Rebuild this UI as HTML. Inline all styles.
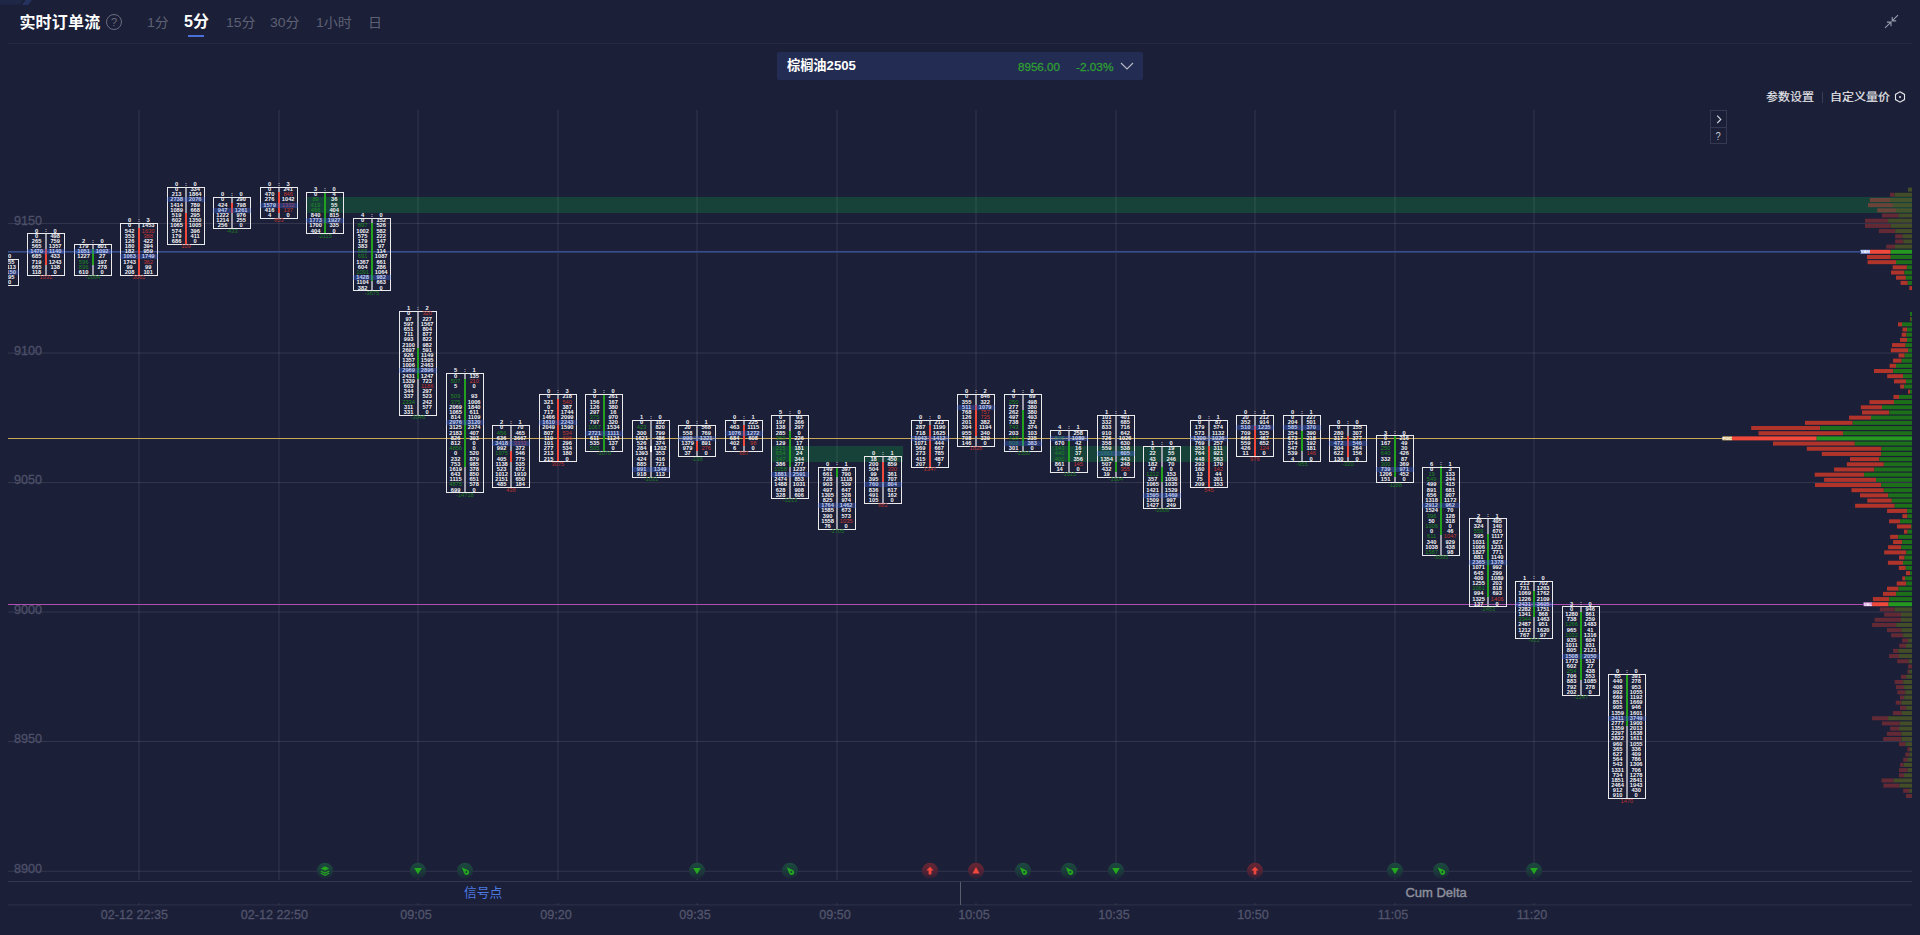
<!DOCTYPE html>
<html lang="zh-CN"><head><meta charset="utf-8"><title>实时订单流</title>
<style>
*{box-sizing:border-box;margin:0;padding:0}
html,body{width:1920px;height:935px;overflow:hidden;background:#1b1f38}
body{position:relative;font-family:"Liberation Sans","Noto Sans CJK SC",sans-serif;color:#fff}
#chart{position:absolute;left:0;top:0}
#chart text{font-family:"Liberation Sans","Noto Sans CJK SC",sans-serif}
.ct text{font-size:5.3px;font-weight:700;fill:#f4f4f7;text-anchor:middle}
.ct text.g{fill:#1f8a22;font-weight:400}
.ct text.r{fill:#c63a34;font-weight:400}
.ct text.dg{fill:#1d7a22;font-weight:400}
.ct text.dr{fill:#b8342f;font-weight:400}
.kl{font-size:4.3px;font-weight:700;text-anchor:middle}
.ax text{font-size:12.6px;fill:#4d5068;stroke:#4d5068;stroke-width:0.3px}
.ax text.xl{text-anchor:middle;fill:#52556c;stroke:#52556c}
.abs{position:absolute;white-space:nowrap}
.hd{left:8px;top:43px;width:1904px;height:1px;background:#25283e}
.title{left:19.4px;top:12px;letter-spacing:0.2px;font-size:16px;font-weight:700;line-height:22px;color:#fff}
.q{left:106px;top:14px;width:16px;height:16px;border:1px solid #6b6d7d;border-radius:50%;color:#6b6d7d;font-size:11px;line-height:14px;text-align:center}
.tab{top:12px;font-size:14px;line-height:20px;color:#5e6174;transform:scaleY(0.9);transform-origin:50% 55%}
.tab.on{color:#fff;font-weight:700;font-size:16px;top:11px;line-height:22px;transform:none}
.ul{left:188px;top:35px;width:16px;height:2px;background:#4a6fd8}
.sel{left:777px;top:52px;width:366px;height:28px;background:#232c52;border-radius:2px}
.sel .nm{left:10px;top:3px;font-size:13.2px;font-weight:700;line-height:22px;color:#fff}
.sel .px{left:241px;top:5px;font-size:11.6px;line-height:20px;color:#2f9e33;-webkit-text-stroke:0.3px #2f9e33}
.sel .pc{left:299px;top:5px;font-size:11.8px;line-height:20px;color:#2f9e33;-webkit-text-stroke:0.3px #2f9e33}
.r1{top:88px;font-size:12px;line-height:18px;color:#e6e6ea;transform:scaleY(0.92);transform-origin:50% 85%;-webkit-text-stroke:0.2px #e6e6ea}
.btn{left:1710px;width:17px;border:1px solid #35384f;color:#c9cad3;font-size:11px;text-align:center}
.sig{left:464px;top:884px;font-size:12.8px;line-height:18px;color:#4d79e0}
.cum{left:1405.4px;top:884px;font-size:13px;line-height:18px;color:#8e909c;-webkit-text-stroke:0.4px #8e909c}
</style></head>
<body>
<svg class="abs" style="left:0;top:0" width="40" height="6"><path d="M0,0H23.5L20,4.8H0Z" fill="#1f2746"/><path d="M25.5,0H32L28,5H22Z" fill="#263361"/></svg>
<div class="abs title">实时订单流</div>
<div class="abs q">?</div>
<div class="abs tab" style="left:147px">1分</div>
<div class="abs tab on" style="left:184px">5分</div>
<div class="abs tab" style="left:226px">15分</div>
<div class="abs tab" style="left:270px">30分</div>
<div class="abs tab" style="left:316px">1小时</div>
<div class="abs tab" style="left:368px">日</div>
<div class="abs ul"></div>
<svg class="abs" style="left:1884px;top:14px" width="16" height="16" viewBox="0 0 16 16" fill="none" stroke="#9a9cae" stroke-width="1.1"><path d="M14,1.2 L8.2,6.9 M8.2,3 V6.9 H12.2 M1,13.8 L7,8.1 M2.9,8.1 H7 V12.3"/></svg>
<div class="abs hd"></div>
<div class="abs sel"><div class="abs nm">棕榈油2505</div><div class="abs px">8956.00</div><div class="abs pc">-2.03%</div>
<svg class="abs" style="left:343px;top:9px" width="14" height="10" viewBox="0 0 14 10" fill="none" stroke="#b9bbc6" stroke-width="1.1"><path d="M1,2 L7,8 L13,2"/></svg></div>
<div class="abs r1" style="left:1766px">参数设置</div>
<div class="abs" style="left:1822px;top:92px;width:1px;height:11px;background:#3a3d55"></div>
<div class="abs r1" style="left:1830px">自定义量价</div>
<svg class="abs" style="left:1894px;top:91px" width="12" height="12" viewBox="0 0 12 12" fill="none" stroke="#e6e6ea" stroke-width="1.1"><path d="M6,0.8 L10.5,3.4 V8.6 L6,11.2 L1.5,8.6 V3.4 Z"/><circle cx="6" cy="6" r="1" fill="#e6e6ea" stroke="none"/></svg>
<div class="abs btn" style="top:110px;height:18px"><svg class="abs" style="left:5px;top:4px" width="6" height="9" viewBox="0 0 6 9" fill="none" stroke="#dcdde4" stroke-width="1.15"><path d="M1.2,0.6 L4.8,4.4 L1.2,8.2"/></svg></div>
<div class="abs btn" style="top:127px;height:17px;line-height:16px;font-size:11px"><span style="display:inline-block;transform:scaleX(0.85)">?</span></div>
<svg id="chart" width="1920" height="935" viewBox="0 0 1920 935">
<defs>
<clipPath id="cp"><rect x="8" y="100" width="1904" height="800"/></clipPath>
<linearGradient id="gg" x1="0" y1="0" x2="0" y2="1"><stop offset="0" stop-color="#1c4a40"/><stop offset="0.55" stop-color="#1b3b3b"/><stop offset="1" stop-color="#1b2538"/></linearGradient>
<linearGradient id="gr" x1="0" y1="0" x2="0" y2="1"><stop offset="0" stop-color="#6a2633"/><stop offset="0.6" stop-color="#4d2236"/><stop offset="1" stop-color="#2a2036"/></linearGradient>
</defs>
<g clip-path="url(#cp)" shape-rendering="crispEdges">
<rect x="306" y="197" width="1606" height="16" fill="#17423a"/>
<rect x="771" y="446" width="132" height="16" fill="#17423a"/>
<rect x="1050" y="446" width="178" height="16" fill="#17423a"/>
</g>
<g>
<rect x="138.5" y="110" width="1" height="770" fill="rgba(255,255,255,0.10)"/>
<rect x="138" y="903.6" width="2" height="0.8" fill="rgba(255,255,255,0.12)"/>
<rect x="278.5" y="110" width="1" height="770" fill="rgba(255,255,255,0.10)"/>
<rect x="278" y="903.6" width="2" height="0.8" fill="rgba(255,255,255,0.12)"/>
<rect x="417.5" y="110" width="1" height="770" fill="rgba(255,255,255,0.10)"/>
<rect x="417" y="903.6" width="2" height="0.8" fill="rgba(255,255,255,0.12)"/>
<rect x="557.5" y="110" width="1" height="770" fill="rgba(255,255,255,0.10)"/>
<rect x="557" y="903.6" width="2" height="0.8" fill="rgba(255,255,255,0.12)"/>
<rect x="696.5" y="110" width="1" height="770" fill="rgba(255,255,255,0.10)"/>
<rect x="696" y="903.6" width="2" height="0.8" fill="rgba(255,255,255,0.12)"/>
<rect x="836.5" y="110" width="1" height="770" fill="rgba(255,255,255,0.10)"/>
<rect x="836" y="903.6" width="2" height="0.8" fill="rgba(255,255,255,0.12)"/>
<rect x="975.5" y="110" width="1" height="770" fill="rgba(255,255,255,0.10)"/>
<rect x="975" y="903.6" width="2" height="0.8" fill="rgba(255,255,255,0.12)"/>
<rect x="1115.5" y="110" width="1" height="770" fill="rgba(255,255,255,0.10)"/>
<rect x="1115" y="903.6" width="2" height="0.8" fill="rgba(255,255,255,0.12)"/>
<rect x="1254.5" y="110" width="1" height="770" fill="rgba(255,255,255,0.10)"/>
<rect x="1254" y="903.6" width="2" height="0.8" fill="rgba(255,255,255,0.12)"/>
<rect x="1394.5" y="110" width="1" height="770" fill="rgba(255,255,255,0.10)"/>
<rect x="1394" y="903.6" width="2" height="0.8" fill="rgba(255,255,255,0.12)"/>
<rect x="1533.5" y="110" width="1" height="770" fill="rgba(255,255,255,0.10)"/>
<rect x="1533" y="903.6" width="2" height="0.8" fill="rgba(255,255,255,0.12)"/>
<rect x="8" y="223" width="1904" height="1" fill="rgba(255,255,255,0.10)"/>
<rect x="8" y="352.5" width="1904" height="1" fill="rgba(255,255,255,0.10)"/>
<rect x="8" y="482" width="1904" height="1" fill="rgba(255,255,255,0.10)"/>
<rect x="8" y="611.5" width="1904" height="1" fill="rgba(255,255,255,0.10)"/>
<rect x="8" y="741" width="1904" height="1" fill="rgba(255,255,255,0.10)"/>
<rect x="8" y="870.8" width="1904" height="1" fill="rgba(255,255,255,0.10)"/>
<rect x="8" y="881" width="1904" height="1" fill="rgba(255,255,255,0.11)"/>
<rect x="8" y="904.4" width="1904" height="1" fill="rgba(255,255,255,0.08)"/>
<rect x="960" y="882" width="1" height="23" fill="#5a5d70"/>
</g>
<g class="ax">
<text x="13.9" y="225.2" class="yl">9150</text>
<text x="13.9" y="354.7" class="yl">9100</text>
<text x="13.9" y="484.2" class="yl">9050</text>
<text x="13.9" y="613.7" class="yl">9000</text>
<text x="13.9" y="743.2" class="yl">8950</text>
<text x="13.9" y="872.7" class="yl">8900</text>
<text x="134.4" y="919.2" class="xl">02-12 22:35</text>
<text x="274.4" y="919.2" class="xl">02-12 22:50</text>
<text x="416" y="919.2" class="xl">09:05</text>
<text x="556" y="919.2" class="xl">09:20</text>
<text x="695" y="919.2" class="xl">09:35</text>
<text x="835" y="919.2" class="xl">09:50</text>
<text x="974" y="919.2" class="xl">10:05</text>
<text x="1114" y="919.2" class="xl">10:35</text>
<text x="1253" y="919.2" class="xl">10:50</text>
<text x="1393" y="919.2" class="xl">11:05</text>
<text x="1532" y="919.2" class="xl">11:20</text>
</g>
<g clip-path="url(#cp)">
<g>
<rect x="1908" y="187.6" width="4" height="4.0" fill="#434d27"/>
<rect x="1890" y="192.78" width="4.6" height="4.0" fill="#632a36"/>
<rect x="1894.6" y="192.78" width="17.4" height="4.0" fill="#434d27"/>
<rect x="1869.8" y="197.97" width="20.2" height="4.0" fill="#6c4339"/>
<rect x="1890" y="197.97" width="22" height="4.0" fill="#45532c"/>
<rect x="1868" y="203.15" width="24.9" height="4.0" fill="#6c4339"/>
<rect x="1892.9" y="203.15" width="19.1" height="4.0" fill="#45532c"/>
<rect x="1877.2" y="208.33" width="18.8" height="4.0" fill="#6c4339"/>
<rect x="1896" y="208.33" width="16" height="4.0" fill="#45532c"/>
<rect x="1882" y="213.51" width="16.4" height="4.0" fill="#632a36"/>
<rect x="1898.4" y="213.51" width="13.6" height="4.0" fill="#434d27"/>
<rect x="1865" y="218.7" width="23.1" height="4.0" fill="#632a36"/>
<rect x="1888.1" y="218.7" width="23.9" height="4.0" fill="#434d27"/>
<rect x="1865" y="223.88" width="25.7" height="4.0" fill="#632a36"/>
<rect x="1890.7" y="223.88" width="21.3" height="4.0" fill="#434d27"/>
<rect x="1878.9" y="229.06" width="16.3" height="4.0" fill="#632a36"/>
<rect x="1895.2" y="229.06" width="16.8" height="4.0" fill="#434d27"/>
<rect x="1895.2" y="234.25" width="7.3" height="4.0" fill="#632a36"/>
<rect x="1902.5" y="234.25" width="9.5" height="4.0" fill="#434d27"/>
<rect x="1895.2" y="239.43" width="8.1" height="4.0" fill="#632a36"/>
<rect x="1903.3" y="239.43" width="8.7" height="4.0" fill="#434d27"/>
<rect x="1886.2" y="244.61" width="8.8" height="4.0" fill="#632a36"/>
<rect x="1895" y="244.61" width="17" height="4.0" fill="#434d27"/>
<rect x="1870" y="249.79" width="20.7" height="4.0" fill="#f0493b"/>
<rect x="1890.7" y="249.79" width="21.3" height="4.0" fill="#25991f"/>
<rect x="1867" y="254.98" width="23.7" height="4.0" fill="#b1342b"/>
<rect x="1890.7" y="254.98" width="21.3" height="4.0" fill="#1d6f19"/>
<rect x="1867.6" y="260.16" width="28.4" height="4.0" fill="#b1342b"/>
<rect x="1896" y="260.16" width="16" height="4.0" fill="#1d6f19"/>
<rect x="1892.6" y="265.34" width="14.3" height="4.0" fill="#b1342b"/>
<rect x="1906.9" y="265.34" width="5.1" height="4.0" fill="#1d6f19"/>
<rect x="1891" y="270.53" width="13.4" height="4.0" fill="#b1342b"/>
<rect x="1904.4" y="270.53" width="7.6" height="4.0" fill="#1d6f19"/>
<rect x="1896" y="275.71" width="9.9" height="4.0" fill="#b1342b"/>
<rect x="1905.9" y="275.71" width="6.1" height="4.0" fill="#1d6f19"/>
<rect x="1900.6" y="280.89" width="7.2" height="4.0" fill="#b1342b"/>
<rect x="1907.8" y="280.89" width="4.2" height="4.0" fill="#1d6f19"/>
<rect x="1909.3" y="286.08" width="2.7" height="4.0" fill="#b1342b"/>
<rect x="1909.9" y="311.99" width="2.1" height="4.0" fill="#1d6f19"/>
<rect x="1910" y="317.17" width="0.8" height="4.0" fill="#b1342b"/>
<rect x="1910.8" y="317.17" width="1.2" height="4.0" fill="#1d6f19"/>
<rect x="1898" y="322.36" width="4" height="4.0" fill="#b1342b"/>
<rect x="1902" y="322.36" width="10" height="4.0" fill="#1d6f19"/>
<rect x="1902.5" y="327.54" width="4.5" height="4.0" fill="#b1342b"/>
<rect x="1907" y="327.54" width="5" height="4.0" fill="#1d6f19"/>
<rect x="1901.7" y="332.72" width="4.8" height="4.0" fill="#b1342b"/>
<rect x="1906.5" y="332.72" width="5.5" height="4.0" fill="#1d6f19"/>
<rect x="1900" y="337.9" width="7" height="4.0" fill="#b1342b"/>
<rect x="1907" y="337.9" width="5" height="4.0" fill="#1d6f19"/>
<rect x="1892" y="343.09" width="13.7" height="4.0" fill="#b1342b"/>
<rect x="1905.7" y="343.09" width="6.3" height="4.0" fill="#1d6f19"/>
<rect x="1890.8" y="348.27" width="17.3" height="4.0" fill="#b1342b"/>
<rect x="1908.1" y="348.27" width="3.9" height="4.0" fill="#1d6f19"/>
<rect x="1898.6" y="353.45" width="6.1" height="4.0" fill="#b1342b"/>
<rect x="1904.7" y="353.45" width="7.3" height="4.0" fill="#1d6f19"/>
<rect x="1893" y="358.64" width="8.7" height="4.0" fill="#b1342b"/>
<rect x="1901.7" y="358.64" width="10.3" height="4.0" fill="#1d6f19"/>
<rect x="1889.6" y="363.82" width="6.4" height="4.0" fill="#b1342b"/>
<rect x="1896" y="363.82" width="16" height="4.0" fill="#1d6f19"/>
<rect x="1874" y="369" width="19.3" height="4.0" fill="#b1342b"/>
<rect x="1893.3" y="369" width="18.7" height="4.0" fill="#1d6f19"/>
<rect x="1887.2" y="374.18" width="15.8" height="4.0" fill="#b1342b"/>
<rect x="1903" y="374.18" width="9" height="4.0" fill="#1d6f19"/>
<rect x="1894" y="379.37" width="12" height="4.0" fill="#b1342b"/>
<rect x="1906" y="379.37" width="6" height="4.0" fill="#1d6f19"/>
<rect x="1900.2" y="384.55" width="4.1" height="4.0" fill="#b1342b"/>
<rect x="1904.3" y="384.55" width="7.7" height="4.0" fill="#1d6f19"/>
<rect x="1908" y="389.73" width="2" height="4.0" fill="#b1342b"/>
<rect x="1910" y="389.73" width="2" height="4.0" fill="#1d6f19"/>
<rect x="1893.5" y="394.92" width="5.5" height="4.0" fill="#b1342b"/>
<rect x="1899" y="394.92" width="13" height="4.0" fill="#1d6f19"/>
<rect x="1869.5" y="400.1" width="24.5" height="4.0" fill="#b1342b"/>
<rect x="1894" y="400.1" width="18" height="4.0" fill="#1d6f19"/>
<rect x="1860.8" y="405.28" width="21.2" height="4.0" fill="#b1342b"/>
<rect x="1882" y="405.28" width="30" height="4.0" fill="#1d6f19"/>
<rect x="1862" y="410.46" width="27.3" height="4.0" fill="#b1342b"/>
<rect x="1889.3" y="410.46" width="22.7" height="4.0" fill="#1d6f19"/>
<rect x="1849" y="415.65" width="22" height="4.0" fill="#b1342b"/>
<rect x="1871" y="415.65" width="41" height="4.0" fill="#1d6f19"/>
<rect x="1805" y="420.83" width="47.7" height="4.0" fill="#b1342b"/>
<rect x="1852.7" y="420.83" width="59.3" height="4.0" fill="#1d6f19"/>
<rect x="1751.2" y="426.01" width="69" height="4.0" fill="#b1342b"/>
<rect x="1820.2" y="426.01" width="91.8" height="4.0" fill="#1d6f19"/>
<rect x="1758.5" y="431.2" width="84.5" height="4.0" fill="#b1342b"/>
<rect x="1843" y="431.2" width="69" height="4.0" fill="#1d6f19"/>
<rect x="1732" y="436.38" width="84.7" height="4.0" fill="#f0493b"/>
<rect x="1816.7" y="436.38" width="95.3" height="4.0" fill="#25991f"/>
<rect x="1773" y="441.56" width="81.8" height="4.0" fill="#b1342b"/>
<rect x="1854.8" y="441.56" width="57.2" height="4.0" fill="#1d6f19"/>
<rect x="1806.8" y="446.75" width="74.7" height="4.0" fill="#b1342b"/>
<rect x="1881.5" y="446.75" width="30.5" height="4.0" fill="#1d6f19"/>
<rect x="1821.8" y="451.93" width="59.4" height="4.0" fill="#b1342b"/>
<rect x="1881.2" y="451.93" width="30.8" height="4.0" fill="#1d6f19"/>
<rect x="1850" y="457.11" width="29.4" height="4.0" fill="#b1342b"/>
<rect x="1879.4" y="457.11" width="32.6" height="4.0" fill="#1d6f19"/>
<rect x="1846.8" y="462.29" width="37" height="4.0" fill="#b1342b"/>
<rect x="1883.8" y="462.29" width="28.2" height="4.0" fill="#1d6f19"/>
<rect x="1834.1" y="467.48" width="40.3" height="4.0" fill="#b1342b"/>
<rect x="1874.4" y="467.48" width="37.6" height="4.0" fill="#1d6f19"/>
<rect x="1814.7" y="472.66" width="49.4" height="4.0" fill="#b1342b"/>
<rect x="1864.1" y="472.66" width="47.9" height="4.0" fill="#1d6f19"/>
<rect x="1824.1" y="477.84" width="52" height="4.0" fill="#b1342b"/>
<rect x="1876.1" y="477.84" width="35.9" height="4.0" fill="#1d6f19"/>
<rect x="1815" y="483.03" width="66.3" height="4.0" fill="#b1342b"/>
<rect x="1881.3" y="483.03" width="30.7" height="4.0" fill="#1d6f19"/>
<rect x="1851.5" y="488.21" width="32.3" height="4.0" fill="#b1342b"/>
<rect x="1883.8" y="488.21" width="28.2" height="4.0" fill="#1d6f19"/>
<rect x="1860" y="493.39" width="28.2" height="4.0" fill="#b1342b"/>
<rect x="1888.2" y="493.39" width="23.8" height="4.0" fill="#1d6f19"/>
<rect x="1867.3" y="498.57" width="24.5" height="4.0" fill="#b1342b"/>
<rect x="1891.8" y="498.57" width="20.2" height="4.0" fill="#1d6f19"/>
<rect x="1855.1" y="503.76" width="39.6" height="4.0" fill="#b1342b"/>
<rect x="1894.7" y="503.76" width="17.3" height="4.0" fill="#1d6f19"/>
<rect x="1887.1" y="508.94" width="20" height="4.0" fill="#b1342b"/>
<rect x="1907.1" y="508.94" width="4.9" height="4.0" fill="#1d6f19"/>
<rect x="1902.4" y="514.12" width="5.1" height="4.0" fill="#b1342b"/>
<rect x="1907.5" y="514.12" width="4.5" height="4.0" fill="#1d6f19"/>
<rect x="1889.1" y="519.31" width="11" height="4.0" fill="#b1342b"/>
<rect x="1900.1" y="519.31" width="11.9" height="4.0" fill="#1d6f19"/>
<rect x="1896.9" y="524.49" width="14.3" height="4.0" fill="#b1342b"/>
<rect x="1911.2" y="524.49" width="0.8" height="4.0" fill="#1d6f19"/>
<rect x="1904" y="529.67" width="3.6" height="4.0" fill="#b1342b"/>
<rect x="1907.6" y="529.67" width="4.4" height="4.0" fill="#1d6f19"/>
<rect x="1890.1" y="534.85" width="8.1" height="4.0" fill="#b1342b"/>
<rect x="1898.2" y="534.85" width="13.8" height="4.0" fill="#1d6f19"/>
<rect x="1893.1" y="540.04" width="9.1" height="4.0" fill="#b1342b"/>
<rect x="1902.2" y="540.04" width="9.8" height="4.0" fill="#1d6f19"/>
<rect x="1888.1" y="545.22" width="13.1" height="4.0" fill="#b1342b"/>
<rect x="1901.2" y="545.22" width="10.8" height="4.0" fill="#1d6f19"/>
<rect x="1884.2" y="550.4" width="22.1" height="4.0" fill="#b1342b"/>
<rect x="1906.3" y="550.4" width="5.7" height="4.0" fill="#1d6f19"/>
<rect x="1899" y="555.59" width="5.6" height="4.0" fill="#b1342b"/>
<rect x="1904.6" y="555.59" width="7.4" height="4.0" fill="#1d6f19"/>
<rect x="1887.9" y="560.77" width="15.2" height="4.0" fill="#b1342b"/>
<rect x="1903.1" y="560.77" width="8.9" height="4.0" fill="#1d6f19"/>
<rect x="1898.8" y="565.95" width="7" height="4.0" fill="#b1342b"/>
<rect x="1905.8" y="565.95" width="6.2" height="4.0" fill="#1d6f19"/>
<rect x="1905.9" y="571.13" width="4.2" height="4.0" fill="#b1342b"/>
<rect x="1910.1" y="571.13" width="1.9" height="4.0" fill="#1d6f19"/>
<rect x="1902.3" y="576.32" width="2.8" height="4.0" fill="#b1342b"/>
<rect x="1905.1" y="576.32" width="6.9" height="4.0" fill="#1d6f19"/>
<rect x="1896.7" y="581.5" width="9.6" height="4.0" fill="#b1342b"/>
<rect x="1906.3" y="581.5" width="5.7" height="4.0" fill="#1d6f19"/>
<rect x="1887" y="586.68" width="11.6" height="4.0" fill="#b1342b"/>
<rect x="1898.6" y="586.68" width="13.4" height="4.0" fill="#1d6f19"/>
<rect x="1882.9" y="591.87" width="13.2" height="4.0" fill="#b1342b"/>
<rect x="1896.1" y="591.87" width="15.9" height="4.0" fill="#1d6f19"/>
<rect x="1872.9" y="597.05" width="16.3" height="4.0" fill="#b1342b"/>
<rect x="1889.2" y="597.05" width="22.8" height="4.0" fill="#1d6f19"/>
<rect x="1872.1" y="602.23" width="16.5" height="4.0" fill="#f0493b"/>
<rect x="1888.6" y="602.23" width="23.4" height="4.0" fill="#25991f"/>
<rect x="1879.8" y="607.41" width="14.9" height="4.0" fill="#632a36"/>
<rect x="1894.7" y="607.41" width="17.3" height="4.0" fill="#434d27"/>
<rect x="1884.1" y="612.6" width="16.9" height="4.0" fill="#632a36"/>
<rect x="1901" y="612.6" width="11" height="4.0" fill="#434d27"/>
<rect x="1874.6" y="617.78" width="26.4" height="4.0" fill="#632a36"/>
<rect x="1901" y="617.78" width="11" height="4.0" fill="#434d27"/>
<rect x="1872.1" y="622.96" width="24" height="4.0" fill="#632a36"/>
<rect x="1896.1" y="622.96" width="15.9" height="4.0" fill="#434d27"/>
<rect x="1887" y="628.15" width="14.2" height="4.0" fill="#632a36"/>
<rect x="1901.2" y="628.15" width="10.8" height="4.0" fill="#434d27"/>
<rect x="1891.1" y="633.33" width="12" height="4.0" fill="#632a36"/>
<rect x="1903.1" y="633.33" width="8.9" height="4.0" fill="#434d27"/>
<rect x="1902.1" y="638.51" width="6" height="4.0" fill="#632a36"/>
<rect x="1908.1" y="638.51" width="3.9" height="4.0" fill="#434d27"/>
<rect x="1899.2" y="643.7" width="6.8" height="4.0" fill="#632a36"/>
<rect x="1906" y="643.7" width="6" height="4.0" fill="#434d27"/>
<rect x="1893.1" y="648.88" width="5.2" height="4.0" fill="#632a36"/>
<rect x="1898.3" y="648.88" width="13.7" height="4.0" fill="#434d27"/>
<rect x="1889" y="654.06" width="10" height="4.0" fill="#632a36"/>
<rect x="1899" y="654.06" width="13" height="4.0" fill="#434d27"/>
<rect x="1897.2" y="659.24" width="11.7" height="4.0" fill="#632a36"/>
<rect x="1908.9" y="659.24" width="3.1" height="4.0" fill="#434d27"/>
<rect x="1908.1" y="664.43" width="3.9" height="4.0" fill="#632a36"/>
<rect x="1907.4" y="669.61" width="1.7" height="4.0" fill="#632a36"/>
<rect x="1909.1" y="669.61" width="2.9" height="4.0" fill="#434d27"/>
<rect x="1901" y="674.79" width="5.2" height="4.0" fill="#632a36"/>
<rect x="1906.2" y="674.79" width="5.8" height="4.0" fill="#434d27"/>
<rect x="1894.7" y="679.98" width="8.5" height="4.0" fill="#632a36"/>
<rect x="1903.2" y="679.98" width="8.8" height="4.0" fill="#434d27"/>
<rect x="1896" y="685.16" width="8.1" height="4.0" fill="#632a36"/>
<rect x="1904.1" y="685.16" width="7.9" height="4.0" fill="#434d27"/>
<rect x="1897.3" y="690.34" width="8" height="4.0" fill="#632a36"/>
<rect x="1905.3" y="690.34" width="6.7" height="4.0" fill="#434d27"/>
<rect x="1900" y="695.52" width="4.2" height="4.0" fill="#632a36"/>
<rect x="1904.2" y="695.52" width="7.8" height="4.0" fill="#434d27"/>
<rect x="1895.8" y="700.71" width="5.5" height="4.0" fill="#632a36"/>
<rect x="1901.3" y="700.71" width="10.7" height="4.0" fill="#434d27"/>
<rect x="1900" y="705.89" width="6.2" height="4.0" fill="#632a36"/>
<rect x="1906.2" y="705.89" width="5.8" height="4.0" fill="#434d27"/>
<rect x="1892.9" y="711.07" width="8.9" height="4.0" fill="#632a36"/>
<rect x="1901.8" y="711.07" width="10.2" height="4.0" fill="#434d27"/>
<rect x="1872.1" y="716.26" width="16" height="4.0" fill="#632a36"/>
<rect x="1888.1" y="716.26" width="23.9" height="4.0" fill="#434d27"/>
<rect x="1881.9" y="721.44" width="18" height="4.0" fill="#632a36"/>
<rect x="1899.9" y="721.44" width="12.1" height="4.0" fill="#434d27"/>
<rect x="1890.1" y="726.62" width="9" height="4.0" fill="#632a36"/>
<rect x="1899.1" y="726.62" width="12.9" height="4.0" fill="#434d27"/>
<rect x="1886.8" y="731.8" width="14.6" height="4.0" fill="#632a36"/>
<rect x="1901.4" y="731.8" width="10.6" height="4.0" fill="#434d27"/>
<rect x="1883.2" y="736.99" width="18.5" height="4.0" fill="#632a36"/>
<rect x="1901.7" y="736.99" width="10.3" height="4.0" fill="#434d27"/>
<rect x="1899" y="742.17" width="6.3" height="4.0" fill="#632a36"/>
<rect x="1905.3" y="742.17" width="6.7" height="4.0" fill="#434d27"/>
<rect x="1907.4" y="747.35" width="2.6" height="4.0" fill="#632a36"/>
<rect x="1910" y="747.35" width="2" height="4.0" fill="#434d27"/>
<rect x="1905.3" y="752.54" width="4.1" height="4.0" fill="#632a36"/>
<rect x="1909.4" y="752.54" width="2.6" height="4.0" fill="#434d27"/>
<rect x="1903.2" y="757.72" width="4" height="4.0" fill="#632a36"/>
<rect x="1907.2" y="757.72" width="4.8" height="4.0" fill="#434d27"/>
<rect x="1900.1" y="762.9" width="3.6" height="4.0" fill="#632a36"/>
<rect x="1903.7" y="762.9" width="8.3" height="4.0" fill="#434d27"/>
<rect x="1899" y="768.08" width="8.6" height="4.0" fill="#632a36"/>
<rect x="1907.6" y="768.08" width="4.4" height="4.0" fill="#434d27"/>
<rect x="1899" y="773.27" width="5" height="4.0" fill="#632a36"/>
<rect x="1904" y="773.27" width="8" height="4.0" fill="#434d27"/>
<rect x="1881.6" y="778.45" width="12.1" height="4.0" fill="#632a36"/>
<rect x="1893.7" y="778.45" width="18.3" height="4.0" fill="#434d27"/>
<rect x="1883.4" y="783.63" width="16.1" height="4.0" fill="#632a36"/>
<rect x="1899.5" y="783.63" width="12.5" height="4.0" fill="#434d27"/>
<rect x="1903.2" y="788.82" width="6" height="4.0" fill="#632a36"/>
<rect x="1909.2" y="788.82" width="2.8" height="4.0" fill="#434d27"/>
<rect x="1906" y="794" width="6" height="4.0" fill="#632a36"/>
<rect x="1860.5" y="249.79" width="9.5" height="4" fill="#90a4ea"/>
<rect x="1722.4" y="436.38" width="9.6" height="4" fill="#d9bd78"/>
<rect x="1863.5" y="602.23" width="8.6" height="4" fill="#d08ad0"/>
</g>
<g shape-rendering="crispEdges">
<rect x="8" y="251" width="1853" height="1" fill="#3a4f8f"/>
<rect x="8" y="252" width="1853" height="1" fill="#2c3a6c"/>
<rect x="8" y="438" width="1715" height="1" fill="#c9a957"/>
<rect x="8" y="604" width="1856" height="1" fill="#b04db0"/>
<rect x="-18.5" y="259.8" width="37" height="25.6" fill="none" stroke="#ebebee"/>
<rect x="45" y="233" width="2" height="43" fill="#9b9ca8"/>
<rect x="45" y="249" width="2" height="16" fill="#f0483a"/>
<rect x="27.5" y="233.5" width="37" height="42" fill="none" stroke="#ebebee" stroke-width="1"/>
<rect x="92" y="244" width="2" height="32" fill="#9b9ca8"/>
<rect x="92" y="249" width="2" height="16" fill="#22a11f"/>
<rect x="74.5" y="244.5" width="37" height="31" fill="none" stroke="#ebebee" stroke-width="1"/>
<rect x="138" y="223" width="2" height="53" fill="#9b9ca8"/>
<rect x="138" y="228" width="2" height="47" fill="#f0483a"/>
<rect x="120.5" y="223.5" width="37" height="52" fill="none" stroke="#ebebee" stroke-width="1"/>
<rect x="185" y="187" width="2" height="58" fill="#9b9ca8"/>
<rect x="185" y="213" width="2" height="31" fill="#f0483a"/>
<rect x="167.5" y="187.5" width="37" height="57" fill="none" stroke="#ebebee" stroke-width="1"/>
<rect x="231" y="197" width="2" height="32" fill="#9b9ca8"/>
<rect x="231" y="203" width="2" height="10" fill="#f0483a"/>
<rect x="213.5" y="197.5" width="37" height="31" fill="none" stroke="#ebebee" stroke-width="1"/>
<rect x="278" y="187" width="2" height="32" fill="#9b9ca8"/>
<rect x="278" y="192" width="2" height="21" fill="#f0483a"/>
<rect x="260.5" y="187.5" width="37" height="31" fill="none" stroke="#ebebee" stroke-width="1"/>
<rect x="324" y="192" width="2" height="42" fill="#9b9ca8"/>
<rect x="324" y="192" width="2" height="41" fill="#22a11f"/>
<rect x="306.5" y="192.5" width="37" height="41" fill="none" stroke="#ebebee" stroke-width="1"/>
<rect x="371" y="218" width="2" height="73" fill="#9b9ca8"/>
<rect x="371" y="223" width="2" height="58" fill="#22a11f"/>
<rect x="353.5" y="218.5" width="37" height="72" fill="none" stroke="#ebebee" stroke-width="1"/>
<rect x="417" y="311" width="2" height="105" fill="#9b9ca8"/>
<rect x="417" y="348" width="2" height="31" fill="#22a11f"/>
<rect x="399.5" y="311.5" width="37" height="104" fill="none" stroke="#ebebee" stroke-width="1"/>
<rect x="464" y="373" width="2" height="120" fill="#9b9ca8"/>
<rect x="464" y="379" width="2" height="88" fill="#22a11f"/>
<rect x="446.5" y="373.5" width="37" height="119" fill="none" stroke="#ebebee" stroke-width="1"/>
<rect x="510" y="425" width="2" height="63" fill="#9b9ca8"/>
<rect x="510" y="451" width="2" height="11" fill="#f0483a"/>
<rect x="492.5" y="425.5" width="37" height="62" fill="none" stroke="#ebebee" stroke-width="1"/>
<rect x="557" y="394" width="2" height="68" fill="#9b9ca8"/>
<rect x="557" y="399" width="2" height="62" fill="#f0483a"/>
<rect x="539.5" y="394.5" width="37" height="67" fill="none" stroke="#ebebee" stroke-width="1"/>
<rect x="603" y="394" width="2" height="58" fill="#9b9ca8"/>
<rect x="603" y="394" width="2" height="57" fill="#22a11f"/>
<rect x="585.5" y="394.5" width="37" height="57" fill="none" stroke="#ebebee" stroke-width="1"/>
<rect x="650" y="420" width="2" height="58" fill="#9b9ca8"/>
<rect x="650" y="446" width="2" height="6" fill="#ffffff"/>
<rect x="632.5" y="420.5" width="37" height="57" fill="none" stroke="#ebebee" stroke-width="1"/>
<rect x="696" y="425" width="2" height="32" fill="#9b9ca8"/>
<rect x="696" y="441" width="2" height="10" fill="#f0483a"/>
<rect x="678.5" y="425.5" width="37" height="31" fill="none" stroke="#ebebee" stroke-width="1"/>
<rect x="743" y="420" width="2" height="32" fill="#9b9ca8"/>
<rect x="743" y="425" width="2" height="21" fill="#f0483a"/>
<rect x="725.5" y="420.5" width="37" height="31" fill="none" stroke="#ebebee" stroke-width="1"/>
<rect x="789" y="415" width="2" height="84" fill="#9b9ca8"/>
<rect x="789" y="431" width="2" height="36" fill="#22a11f"/>
<rect x="771.5" y="415.5" width="37" height="83" fill="none" stroke="#ebebee" stroke-width="1"/>
<rect x="836" y="467" width="2" height="63" fill="#9b9ca8"/>
<rect x="836" y="467" width="2" height="10" fill="#22a11f"/>
<rect x="818.5" y="467.5" width="37" height="62" fill="none" stroke="#ebebee" stroke-width="1"/>
<rect x="882" y="456" width="2" height="48" fill="#9b9ca8"/>
<rect x="882" y="462" width="2" height="20" fill="#f0483a"/>
<rect x="864.5" y="456.5" width="37" height="47" fill="none" stroke="#ebebee" stroke-width="1"/>
<rect x="929" y="420" width="2" height="48" fill="#9b9ca8"/>
<rect x="929" y="425" width="2" height="42" fill="#f0483a"/>
<rect x="911.5" y="420.5" width="37" height="47" fill="none" stroke="#ebebee" stroke-width="1"/>
<rect x="975" y="394" width="2" height="53" fill="#9b9ca8"/>
<rect x="975" y="405" width="2" height="31" fill="#f0483a"/>
<rect x="957.5" y="394.5" width="37" height="52" fill="none" stroke="#ebebee" stroke-width="1"/>
<rect x="1022" y="394" width="2" height="58" fill="#9b9ca8"/>
<rect x="1022" y="410" width="2" height="36" fill="#22a11f"/>
<rect x="1004.5" y="394.5" width="37" height="57" fill="none" stroke="#ebebee" stroke-width="1"/>
<rect x="1068" y="430" width="2" height="43" fill="#9b9ca8"/>
<rect x="1068" y="441" width="2" height="21" fill="#22a11f"/>
<rect x="1050.5" y="430.5" width="37" height="42" fill="none" stroke="#ebebee" stroke-width="1"/>
<rect x="1115" y="415" width="2" height="63" fill="#9b9ca8"/>
<rect x="1115" y="462" width="2" height="10" fill="#22a11f"/>
<rect x="1097.5" y="415.5" width="37" height="62" fill="none" stroke="#ebebee" stroke-width="1"/>
<rect x="1161" y="446" width="2" height="63" fill="#9b9ca8"/>
<rect x="1161" y="467" width="2" height="15" fill="#22a11f"/>
<rect x="1143.5" y="446.5" width="37" height="62" fill="none" stroke="#ebebee" stroke-width="1"/>
<rect x="1208" y="420" width="2" height="68" fill="#9b9ca8"/>
<rect x="1208" y="446" width="2" height="41" fill="#f0483a"/>
<rect x="1190.5" y="420.5" width="37" height="67" fill="none" stroke="#ebebee" stroke-width="1"/>
<rect x="1254" y="415" width="2" height="42" fill="#9b9ca8"/>
<rect x="1254" y="426" width="2" height="31" fill="#f0483a"/>
<rect x="1236.5" y="415.5" width="37" height="41" fill="none" stroke="#ebebee" stroke-width="1"/>
<rect x="1301" y="415" width="2" height="47" fill="#9b9ca8"/>
<rect x="1301" y="431" width="2" height="20" fill="#22a11f"/>
<rect x="1283.5" y="415.5" width="37" height="46" fill="none" stroke="#ebebee" stroke-width="1"/>
<rect x="1347" y="425" width="2" height="37" fill="#9b9ca8"/>
<rect x="1347" y="436" width="2" height="21" fill="#f0483a"/>
<rect x="1329.5" y="425.5" width="37" height="36" fill="none" stroke="#ebebee" stroke-width="1"/>
<rect x="1394" y="435" width="2" height="48" fill="#9b9ca8"/>
<rect x="1394" y="436" width="2" height="41" fill="#22a11f"/>
<rect x="1376.5" y="435.5" width="37" height="47" fill="none" stroke="#ebebee" stroke-width="1"/>
<rect x="1440" y="467" width="2" height="89" fill="#9b9ca8"/>
<rect x="1440" y="466" width="2" height="69" fill="#22a11f"/>
<rect x="1422.5" y="467.5" width="37" height="88" fill="none" stroke="#ebebee" stroke-width="1"/>
<rect x="1487" y="518" width="2" height="89" fill="#9b9ca8"/>
<rect x="1487" y="534" width="2" height="63" fill="#22a11f"/>
<rect x="1469.5" y="518.5" width="37" height="88" fill="none" stroke="#ebebee" stroke-width="1"/>
<rect x="1533" y="581" width="2" height="58" fill="#9b9ca8"/>
<rect x="1533" y="591" width="2" height="26" fill="#22a11f"/>
<rect x="1515.5" y="581.5" width="37" height="57" fill="none" stroke="#ebebee" stroke-width="1"/>
<rect x="1580" y="606" width="2" height="90" fill="#9b9ca8"/>
<rect x="1580" y="612" width="2" height="68" fill="#22a11f"/>
<rect x="1562.5" y="606.5" width="37" height="89" fill="none" stroke="#ebebee" stroke-width="1"/>
<rect x="1626" y="674" width="2" height="125" fill="#9b9ca8"/>
<rect x="1626" y="674" width="2" height="52" fill="#22a11f"/>
<rect x="1608.5" y="674.5" width="37" height="124" fill="none" stroke="#ebebee" stroke-width="1"/>
</g>
<g class="ct" transform="scale(1.08,1)">
<text x="8.98" y="258.1">0</text>
<text x="8.98" y="263.9">355</text>
<text x="8.98" y="268.9">2113</text>
<text x="8.98" y="273.9">1150</text>
<text x="8.98" y="278.9">195</text>
<text x="8.98" y="283.9">0</text>
<text x="33.89" y="232.52">0</text><text x="42.5" y="232.22">:</text><text x="51.11" y="232.52">0</text>
<text x="33.89" y="237.9">0</text><text x="51.11" y="237.9">498</text>
<text x="33.89" y="242.9">265</text><text x="51.11" y="242.9">759</text>
<text x="33.89" y="247.9">565</text><text x="51.11" y="247.9">1357</text>
<text x="33.89" y="252.9">1470</text><text x="51.11" y="252.9">1140</text>
<text x="33.89" y="257.9">685</text><text x="51.11" y="257.9">433</text>
<text x="33.89" y="263.9">719</text><text x="51.11" y="263.9">1243</text>
<text x="33.89" y="268.9">665</text><text x="51.11" y="268.9">138</text>
<text x="33.89" y="273.9">118</text><text x="51.11" y="273.9">0</text>
<text x="42.5" y="279.28" class="dr">1031</text>
<text x="77.41" y="242.88">2</text><text x="86.02" y="242.58">:</text><text x="94.63" y="242.88">0</text>
<text x="77.41" y="247.9">179</text><text x="94.63" y="247.9">801</text>
<text x="77.41" y="252.9">1051</text><text x="94.63" y="252.9">1092</text>
<text x="77.41" y="257.9">1227</text><text x="94.63" y="257.9">27</text>
<text x="77.41" y="263.9" class="g">596</text><text x="94.63" y="263.9">197</text>
<text x="77.41" y="268.9" class="g">836</text><text x="94.63" y="268.9">278</text>
<text x="77.41" y="273.9">610</text><text x="94.63" y="273.9">0</text>
<text x="86.02" y="279.28" class="dg">-2094</text>
<text x="120" y="222.15">0</text><text x="128.61" y="221.85">:</text><text x="137.22" y="222.15">3</text>
<text x="120" y="226.9">0</text><text x="137.22" y="226.9">1453</text>
<text x="120" y="232.9">542</text><text x="137.22" y="232.9" class="r">1630</text>
<text x="120" y="237.9">353</text><text x="137.22" y="237.9" class="r">388</text>
<text x="120" y="242.9">126</text><text x="137.22" y="242.9">422</text>
<text x="120" y="247.9">180</text><text x="137.22" y="247.9">394</text>
<text x="120" y="252.9">182</text><text x="137.22" y="252.9">959</text>
<text x="120" y="257.9">1063</text><text x="137.22" y="257.9">1749</text>
<text x="120" y="263.9">1743</text><text x="137.22" y="263.9" class="r">362</text>
<text x="120" y="268.9">99</text><text x="137.22" y="268.9">99</text>
<text x="120" y="273.9">208</text><text x="137.22" y="273.9">101</text>
<text x="128.61" y="279.28" class="dr">3061</text>
<text x="163.52" y="185.87">0</text><text x="172.13" y="185.57">:</text><text x="180.74" y="185.87">0</text>
<text x="163.52" y="190.9">0</text><text x="180.74" y="190.9">334</text>
<text x="163.52" y="195.9">213</text><text x="180.74" y="195.9">1864</text>
<text x="163.52" y="200.9">2738</text><text x="180.74" y="200.9">2076</text>
<text x="163.52" y="206.9">1414</text><text x="180.74" y="206.9">789</text>
<text x="163.52" y="211.9">1089</text><text x="180.74" y="211.9">668</text>
<text x="163.52" y="216.9">519</text><text x="180.74" y="216.9">295</text>
<text x="163.52" y="221.9">602</text><text x="180.74" y="221.9">1350</text>
<text x="163.52" y="226.9">1065</text><text x="180.74" y="226.9">1005</text>
<text x="163.52" y="232.9">574</text><text x="180.74" y="232.9">396</text>
<text x="163.52" y="237.9">179</text><text x="180.74" y="237.9">411</text>
<text x="163.52" y="242.9">686</text><text x="180.74" y="242.9">0</text>
<text x="172.13" y="248.18" class="dr">109</text>
<text x="206.11" y="196.24">0</text><text x="214.72" y="195.94">:</text><text x="223.33" y="196.24">0</text>
<text x="206.11" y="200.9">0</text><text x="223.33" y="200.9">290</text>
<text x="206.11" y="206.9">424</text><text x="223.33" y="206.9">798</text>
<text x="206.11" y="211.9">947</text><text x="223.33" y="211.9">1261</text>
<text x="206.11" y="216.9">1222</text><text x="223.33" y="216.9">976</text>
<text x="206.11" y="221.9">1214</text><text x="223.33" y="221.9">255</text>
<text x="206.11" y="226.9">256</text><text x="223.33" y="226.9">0</text>
<text x="214.72" y="232.63" class="dg">-433</text>
<text x="249.63" y="185.87">0</text><text x="258.24" y="185.57">:</text><text x="266.85" y="185.87">3</text>
<text x="249.63" y="190.9">0</text><text x="266.85" y="190.9">241</text>
<text x="249.63" y="195.9">470</text><text x="266.85" y="195.9" class="r">846</text>
<text x="249.63" y="200.9">276</text><text x="266.85" y="200.9">1042</text>
<text x="249.63" y="206.9">1579</text><text x="266.85" y="206.9" class="r">1332</text>
<text x="249.63" y="211.9">416</text><text x="266.85" y="211.9" class="r">137</text>
<text x="249.63" y="216.9">4</text><text x="266.85" y="216.9">0</text>
<text x="258.24" y="222.27" class="dr">853</text>
<text x="292.22" y="191.05">3</text><text x="300.83" y="190.75">:</text><text x="309.44" y="191.05">0</text>
<text x="292.22" y="195.9">0</text><text x="309.44" y="195.9">4</text>
<text x="292.22" y="200.9" class="g">89</text><text x="309.44" y="200.9">36</text>
<text x="292.22" y="206.9" class="g">419</text><text x="309.44" y="206.9">55</text>
<text x="292.22" y="211.9" class="g">466</text><text x="309.44" y="211.9">404</text>
<text x="292.22" y="216.9">840</text><text x="309.44" y="216.9">815</text>
<text x="292.22" y="221.9">1773</text><text x="309.44" y="221.9">1927</text>
<text x="292.22" y="226.9">1700</text><text x="309.44" y="226.9">335</text>
<text x="292.22" y="232.9">404</text><text x="309.44" y="232.9">0</text>
<text x="300.83" y="237.82" class="dg">-2115</text>
<text x="335.74" y="216.97">4</text><text x="344.35" y="216.67">:</text><text x="352.96" y="216.97">0</text>
<text x="335.74" y="221.9">0</text><text x="352.96" y="221.9">152</text>
<text x="335.74" y="226.9" class="g">897</text><text x="352.96" y="226.9">526</text>
<text x="335.74" y="232.9">1002</text><text x="352.96" y="232.9">582</text>
<text x="335.74" y="237.9">575</text><text x="352.96" y="237.9">222</text>
<text x="335.74" y="242.9">179</text><text x="352.96" y="242.9">147</text>
<text x="335.74" y="247.9">383</text><text x="352.96" y="247.9">97</text>
<text x="335.74" y="252.9" class="g">565</text><text x="352.96" y="252.9">114</text>
<text x="335.74" y="257.9" class="g">691</text><text x="352.96" y="257.9">1087</text>
<text x="335.74" y="263.9">1367</text><text x="352.96" y="263.9">661</text>
<text x="335.74" y="268.9">604</text><text x="352.96" y="268.9">286</text>
<text x="335.74" y="273.9" class="g">1091</text><text x="352.96" y="273.9">1064</text>
<text x="335.74" y="278.9">1428</text><text x="352.96" y="278.9">982</text>
<text x="335.74" y="283.9">1104</text><text x="352.96" y="283.9">663</text>
<text x="335.74" y="289.9">382</text><text x="352.96" y="289.9">0</text>
<text x="344.35" y="294.83" class="dg">-3675</text>
<text x="378.33" y="310.26">1</text><text x="386.94" y="309.96">:</text><text x="395.56" y="310.26">2</text>
<text x="378.33" y="314.9">0</text><text x="395.56" y="314.9" class="r">320</text>
<text x="378.33" y="320.9">97</text><text x="395.56" y="320.9">227</text>
<text x="378.33" y="325.9">597</text><text x="395.56" y="325.9">1567</text>
<text x="378.33" y="330.9">651</text><text x="395.56" y="330.9">804</text>
<text x="378.33" y="335.9">711</text><text x="395.56" y="335.9">877</text>
<text x="378.33" y="340.9">993</text><text x="395.56" y="340.9">822</text>
<text x="378.33" y="346.9">2100</text><text x="395.56" y="346.9">982</text>
<text x="378.33" y="351.9">2697</text><text x="395.56" y="351.9">591</text>
<text x="378.33" y="356.9">926</text><text x="395.56" y="356.9">1149</text>
<text x="378.33" y="361.9">1357</text><text x="395.56" y="361.9">1595</text>
<text x="378.33" y="366.9">1006</text><text x="395.56" y="366.9">2463</text>
<text x="378.33" y="371.9">2969</text><text x="395.56" y="371.9">2896</text>
<text x="378.33" y="377.9">2431</text><text x="395.56" y="377.9">1247</text>
<text x="378.33" y="382.9">1339</text><text x="395.56" y="382.9">723</text>
<text x="378.33" y="387.9">603</text><text x="395.56" y="387.9" class="r">1186</text>
<text x="378.33" y="392.9">344</text><text x="395.56" y="392.9">297</text>
<text x="378.33" y="397.9">337</text><text x="395.56" y="397.9">523</text>
<text x="378.33" y="403.9" class="g">2334</text><text x="395.56" y="403.9">242</text>
<text x="378.33" y="408.9">311</text><text x="395.56" y="408.9">577</text>
<text x="378.33" y="413.9">331</text><text x="395.56" y="413.9">0</text>
<text x="386.94" y="419.22" class="dg">-3046</text>
<text x="421.85" y="372.45">5</text><text x="430.46" y="372.15">:</text><text x="439.07" y="372.45">1</text>
<text x="421.85" y="377.9">0</text><text x="439.07" y="377.9">135</text>
<text x="421.85" y="382.9" class="g">507</text><text x="439.07" y="382.9" class="r">210</text>
<text x="421.85" y="387.9">5</text><text x="439.07" y="387.9">0</text>
<text x="421.85" y="397.9" class="g">509</text><text x="439.07" y="397.9">93</text>
<text x="421.85" y="403.9" class="g">375</text><text x="439.07" y="403.9">1006</text>
<text x="421.85" y="408.9">2069</text><text x="439.07" y="408.9">1840</text>
<text x="421.85" y="413.9">1065</text><text x="439.07" y="413.9">611</text>
<text x="421.85" y="418.9">814</text><text x="439.07" y="418.9">1109</text>
<text x="421.85" y="423.9">2976</text><text x="439.07" y="423.9">3120</text>
<text x="421.85" y="428.9">3125</text><text x="439.07" y="428.9">2374</text>
<text x="421.85" y="434.9">2183</text><text x="439.07" y="434.9">407</text>
<text x="421.85" y="439.9">826</text><text x="439.07" y="439.9">393</text>
<text x="421.85" y="444.9">812</text><text x="439.07" y="444.9">0</text>
<text x="421.85" y="449.9" class="g">4856</text><text x="439.07" y="449.9">0</text>
<text x="421.85" y="454.9">0</text><text x="439.07" y="454.9">520</text>
<text x="421.85" y="460.9">232</text><text x="439.07" y="460.9">879</text>
<text x="421.85" y="465.9">753</text><text x="439.07" y="465.9">985</text>
<text x="421.85" y="470.9">1619</text><text x="439.07" y="470.9">378</text>
<text x="421.85" y="475.9">643</text><text x="439.07" y="475.9">850</text>
<text x="421.85" y="480.9">1115</text><text x="439.07" y="480.9">651</text>
<text x="421.85" y="485.9" class="g">4875</text><text x="439.07" y="485.9">578</text>
<text x="421.85" y="491.9">699</text><text x="439.07" y="491.9">0</text>
<text x="430.46" y="496.96" class="dg">-14718</text>
<text x="464.44" y="424.28">2</text><text x="473.06" y="423.98">:</text><text x="481.67" y="424.28">1</text>
<text x="464.44" y="428.9">0</text><text x="481.67" y="428.9">70</text>
<text x="464.44" y="434.9" class="g">456</text><text x="481.67" y="434.9">465</text>
<text x="464.44" y="439.9">636</text><text x="481.67" y="439.9">3667</text>
<text x="464.44" y="444.9">3418</text><text x="481.67" y="444.9" class="r">3333</text>
<text x="464.44" y="449.9">992</text><text x="481.67" y="449.9">372</text>
<text x="464.44" y="454.9" class="g">1975</text><text x="481.67" y="454.9">546</text>
<text x="464.44" y="460.9">405</text><text x="481.67" y="460.9">775</text>
<text x="464.44" y="465.9">1138</text><text x="481.67" y="465.9">535</text>
<text x="464.44" y="470.9">523</text><text x="481.67" y="470.9">672</text>
<text x="464.44" y="475.9">1012</text><text x="481.67" y="475.9">1910</text>
<text x="464.44" y="480.9">2151</text><text x="481.67" y="480.9">650</text>
<text x="464.44" y="485.9">485</text><text x="481.67" y="485.9">184</text>
<text x="473.06" y="491.78" class="dr">438</text>
<text x="507.96" y="393.19">0</text><text x="516.57" y="392.89">:</text><text x="525.19" y="393.19">3</text>
<text x="507.96" y="397.9">0</text><text x="525.19" y="397.9">218</text>
<text x="507.96" y="403.9">321</text><text x="525.19" y="403.9" class="r">540</text>
<text x="507.96" y="408.9">0</text><text x="525.19" y="408.9">387</text>
<text x="507.96" y="413.9">717</text><text x="525.19" y="413.9">1744</text>
<text x="507.96" y="418.9">1466</text><text x="525.19" y="418.9">2099</text>
<text x="507.96" y="423.9">1610</text><text x="525.19" y="423.9">2243</text>
<text x="507.96" y="428.9">2049</text><text x="525.19" y="428.9">1590</text>
<text x="507.96" y="434.9">807</text><text x="525.19" y="434.9" class="r">534</text>
<text x="507.96" y="439.9">110</text><text x="525.19" y="439.9" class="r">606</text>
<text x="507.96" y="444.9">101</text><text x="525.19" y="444.9">296</text>
<text x="507.96" y="449.9">277</text><text x="525.19" y="449.9">534</text>
<text x="507.96" y="454.9">213</text><text x="525.19" y="454.9">180</text>
<text x="507.96" y="460.9">215</text><text x="525.19" y="460.9">0</text>
<text x="516.57" y="465.86" class="dr">3075</text>
<text x="550.56" y="393.19">3</text><text x="559.17" y="392.89">:</text><text x="567.78" y="393.19">0</text>
<text x="550.56" y="397.9">0</text><text x="567.78" y="397.9">261</text>
<text x="550.56" y="403.9">156</text><text x="567.78" y="403.9">167</text>
<text x="550.56" y="408.9">126</text><text x="567.78" y="408.9">380</text>
<text x="550.56" y="413.9">297</text><text x="567.78" y="413.9">16</text>
<text x="550.56" y="418.9" class="g">375</text><text x="567.78" y="418.9">970</text>
<text x="550.56" y="423.9">797</text><text x="567.78" y="423.9">320</text>
<text x="550.56" y="428.9" class="g">1067</text><text x="567.78" y="428.9">1534</text>
<text x="550.56" y="434.9">2721</text><text x="567.78" y="434.9">1111</text>
<text x="550.56" y="439.9">611</text><text x="567.78" y="439.9">1124</text>
<text x="550.56" y="444.9">535</text><text x="567.78" y="444.9">137</text>
<text x="550.56" y="449.9" class="g">505</text><text x="567.78" y="449.9">0</text>
<text x="559.17" y="455.5" class="dg">-1070</text>
<text x="594.07" y="419.1">1</text><text x="602.69" y="418.8">:</text><text x="611.3" y="419.1">0</text>
<text x="594.07" y="423.9">0</text><text x="611.3" y="423.9">102</text>
<text x="594.07" y="428.9" class="g">423</text><text x="611.3" y="428.9">820</text>
<text x="594.07" y="434.9">300</text><text x="611.3" y="434.9">799</text>
<text x="594.07" y="439.9">1621</text><text x="611.3" y="439.9">486</text>
<text x="594.07" y="444.9">526</text><text x="611.3" y="444.9">374</text>
<text x="594.07" y="449.9">284</text><text x="611.3" y="449.9">1202</text>
<text x="594.07" y="454.9">1393</text><text x="611.3" y="454.9">353</text>
<text x="594.07" y="460.9">424</text><text x="611.3" y="460.9">416</text>
<text x="594.07" y="465.9">885</text><text x="611.3" y="465.9">721</text>
<text x="594.07" y="470.9">991</text><text x="611.3" y="470.9">1349</text>
<text x="594.07" y="475.9">918</text><text x="611.3" y="475.9">113</text>
<text x="602.69" y="481.41" class="dg">-1031</text>
<text x="636.67" y="424.28">0</text><text x="645.28" y="423.98">:</text><text x="653.89" y="424.28">1</text>
<text x="636.67" y="428.9">20</text><text x="653.89" y="428.9">568</text>
<text x="636.67" y="434.9">558</text><text x="653.89" y="434.9">769</text>
<text x="636.67" y="439.9">990</text><text x="653.89" y="439.9">1321</text>
<text x="636.67" y="444.9">1379</text><text x="653.89" y="444.9">891</text>
<text x="636.67" y="449.9">979</text><text x="653.89" y="449.9" class="r">276</text>
<text x="636.67" y="454.9">37</text><text x="653.89" y="454.9">0</text>
<text x="645.28" y="460.68" class="dg">-138</text>
<text x="680.19" y="419.1">0</text><text x="688.8" y="418.8">:</text><text x="697.41" y="419.1">1</text>
<text x="680.19" y="423.9">0</text><text x="697.41" y="423.9">225</text>
<text x="680.19" y="428.9">463</text><text x="697.41" y="428.9">1115</text>
<text x="680.19" y="434.9">1076</text><text x="697.41" y="434.9">1272</text>
<text x="680.19" y="439.9">684</text><text x="697.41" y="439.9">608</text>
<text x="680.19" y="444.9">402</text><text x="697.41" y="444.9" class="r">98</text>
<text x="680.19" y="449.9">6</text><text x="697.41" y="449.9">0</text>
<text x="688.8" y="455.5" class="dr">687</text>
<text x="722.78" y="413.92">5</text><text x="731.39" y="413.62">:</text><text x="740" y="413.92">0</text>
<text x="722.78" y="418.9">0</text><text x="740" y="418.9">93</text>
<text x="722.78" y="423.9">197</text><text x="740" y="423.9">366</text>
<text x="722.78" y="428.9">138</text><text x="740" y="428.9">297</text>
<text x="722.78" y="434.9">285</text><text x="740" y="434.9">0</text>
<text x="722.78" y="439.9" class="g">369</text><text x="740" y="439.9">226</text>
<text x="722.78" y="444.9">129</text><text x="740" y="444.9">17</text>
<text x="722.78" y="449.9" class="g">215</text><text x="740" y="449.9">181</text>
<text x="722.78" y="454.9" class="g">654</text><text x="740" y="454.9">24</text>
<text x="722.78" y="460.9" class="g">147</text><text x="740" y="460.9">344</text>
<text x="722.78" y="465.9">386</text><text x="740" y="465.9">277</text>
<text x="722.78" y="470.9" class="g">1058</text><text x="740" y="470.9">1237</text>
<text x="722.78" y="475.9">1881</text><text x="740" y="475.9">2591</text>
<text x="722.78" y="480.9">2474</text><text x="740" y="480.9">853</text>
<text x="722.78" y="485.9">1488</text><text x="740" y="485.9">1031</text>
<text x="722.78" y="491.9">628</text><text x="740" y="491.9">908</text>
<text x="722.78" y="496.9">328</text><text x="740" y="496.9">606</text>
<text x="731.39" y="502.14" class="dg">-1213</text>
<text x="766.3" y="465.75">0</text><text x="774.91" y="465.45">:</text><text x="783.52" y="465.75">1</text>
<text x="766.3" y="470.9">149</text><text x="783.52" y="470.9">397</text>
<text x="766.3" y="475.9">661</text><text x="783.52" y="475.9">790</text>
<text x="766.3" y="480.9">728</text><text x="783.52" y="480.9">1118</text>
<text x="766.3" y="485.9">903</text><text x="783.52" y="485.9">539</text>
<text x="766.3" y="491.9">497</text><text x="783.52" y="491.9">647</text>
<text x="766.3" y="496.9">1305</text><text x="783.52" y="496.9">528</text>
<text x="766.3" y="501.9">825</text><text x="783.52" y="501.9">974</text>
<text x="766.3" y="506.9">1764</text><text x="783.52" y="506.9">1462</text>
<text x="766.3" y="511.9">1585</text><text x="783.52" y="511.9">673</text>
<text x="766.3" y="517.9">390</text><text x="783.52" y="517.9">573</text>
<text x="766.3" y="522.9">1558</text><text x="783.52" y="522.9" class="r">1035</text>
<text x="766.3" y="527.9">76</text><text x="783.52" y="527.9">0</text>
<text x="774.91" y="533.24" class="dg">-1705</text>
<text x="808.89" y="455.38">0</text><text x="817.5" y="455.08">:</text><text x="826.11" y="455.38">1</text>
<text x="808.89" y="460.9">18</text><text x="826.11" y="460.9">450</text>
<text x="808.89" y="465.9">200</text><text x="826.11" y="465.9">859</text>
<text x="808.89" y="470.9">504</text><text x="826.11" y="470.9" class="r">330</text>
<text x="808.89" y="475.9">99</text><text x="826.11" y="475.9">361</text>
<text x="808.89" y="480.9">395</text><text x="826.11" y="480.9">707</text>
<text x="808.89" y="485.9">760</text><text x="826.11" y="485.9">804</text>
<text x="808.89" y="491.9">836</text><text x="826.11" y="491.9">617</text>
<text x="808.89" y="496.9">491</text><text x="826.11" y="496.9">162</text>
<text x="808.89" y="501.9">105</text><text x="826.11" y="501.9">0</text>
<text x="817.5" y="507.33" class="dr">882</text>
<text x="852.41" y="419.1">0</text><text x="861.02" y="418.8">:</text><text x="869.63" y="419.1">0</text>
<text x="852.41" y="423.9">0</text><text x="869.63" y="423.9">213</text>
<text x="852.41" y="428.9">287</text><text x="869.63" y="428.9">1190</text>
<text x="852.41" y="434.9">718</text><text x="869.63" y="434.9">1625</text>
<text x="852.41" y="439.9">1043</text><text x="869.63" y="439.9">1412</text>
<text x="852.41" y="444.9">1071</text><text x="869.63" y="444.9">444</text>
<text x="852.41" y="449.9">569</text><text x="869.63" y="449.9">667</text>
<text x="852.41" y="454.9">273</text><text x="869.63" y="454.9">785</text>
<text x="852.41" y="460.9">415</text><text x="869.63" y="460.9">487</text>
<text x="852.41" y="465.9">207</text><text x="869.63" y="465.9">7</text>
<text x="861.02" y="471.05" class="dr">1347</text>
<text x="895" y="393.19">0</text><text x="903.61" y="392.89">:</text><text x="912.22" y="393.19">2</text>
<text x="895" y="397.9">0</text><text x="912.22" y="397.9">846</text>
<text x="895" y="403.9">355</text><text x="912.22" y="403.9">322</text>
<text x="895" y="408.9">511</text><text x="912.22" y="408.9">1079</text>
<text x="895" y="413.9">768</text><text x="912.22" y="413.9" class="r">757</text>
<text x="895" y="418.9">126</text><text x="912.22" y="418.9" class="r">735</text>
<text x="895" y="423.9">201</text><text x="912.22" y="423.9">382</text>
<text x="895" y="428.9">304</text><text x="912.22" y="428.9">1194</text>
<text x="895" y="434.9">955</text><text x="912.22" y="434.9">340</text>
<text x="895" y="439.9">798</text><text x="912.22" y="439.9">339</text>
<text x="895" y="444.9">146</text><text x="912.22" y="444.9">0</text>
<text x="903.61" y="450.31" class="dr">1828</text>
<text x="938.52" y="393.19">4</text><text x="947.13" y="392.89">:</text><text x="955.74" y="393.19">0</text>
<text x="938.52" y="397.9">0</text><text x="955.74" y="397.9">69</text>
<text x="938.52" y="403.9" class="g">250</text><text x="955.74" y="403.9">498</text>
<text x="938.52" y="408.9">277</text><text x="955.74" y="408.9">380</text>
<text x="938.52" y="413.9">262</text><text x="955.74" y="413.9">380</text>
<text x="938.52" y="418.9">497</text><text x="955.74" y="418.9">493</text>
<text x="938.52" y="423.9">738</text><text x="955.74" y="423.9">32</text>
<text x="938.52" y="428.9" class="g">743</text><text x="955.74" y="428.9">374</text>
<text x="938.52" y="434.9">203</text><text x="955.74" y="434.9">103</text>
<text x="938.52" y="439.9" class="g">418</text><text x="955.74" y="439.9">235</text>
<text x="938.52" y="444.9" class="g">808</text><text x="955.74" y="444.9">383</text>
<text x="938.52" y="449.9">301</text><text x="955.74" y="449.9">0</text>
<text x="947.13" y="455.5" class="dg">-1550</text>
<text x="981.11" y="429.47">4</text><text x="989.72" y="429.17">:</text><text x="998.33" y="429.47">1</text>
<text x="981.11" y="434.9">0</text><text x="998.33" y="434.9">258</text>
<text x="981.11" y="439.9" class="g">846</text><text x="998.33" y="439.9">1089</text>
<text x="981.11" y="444.9">670</text><text x="998.33" y="444.9">42</text>
<text x="981.11" y="449.9" class="g">143</text><text x="998.33" y="449.9">16</text>
<text x="981.11" y="454.9" class="g">440</text><text x="998.33" y="454.9">37</text>
<text x="981.11" y="460.9" class="g">400</text><text x="998.33" y="460.9">356</text>
<text x="981.11" y="465.9">861</text><text x="998.33" y="465.9" class="r">145</text>
<text x="981.11" y="470.9">14</text><text x="998.33" y="470.9">0</text>
<text x="989.72" y="476.23" class="dg">-1515</text>
<text x="1024.63" y="413.92">1</text><text x="1033.24" y="413.62">:</text><text x="1041.85" y="413.92">1</text>
<text x="1024.63" y="418.9">101</text><text x="1041.85" y="418.9">401</text>
<text x="1024.63" y="423.9">332</text><text x="1041.85" y="423.9">685</text>
<text x="1024.63" y="428.9">833</text><text x="1041.85" y="428.9">716</text>
<text x="1024.63" y="434.9">910</text><text x="1041.85" y="434.9">642</text>
<text x="1024.63" y="439.9">726</text><text x="1041.85" y="439.9">1026</text>
<text x="1024.63" y="444.9">358</text><text x="1041.85" y="444.9">630</text>
<text x="1024.63" y="449.9">559</text><text x="1041.85" y="449.9">538</text>
<text x="1024.63" y="454.9" class="g">1661</text><text x="1041.85" y="454.9">605</text>
<text x="1024.63" y="460.9">1354</text><text x="1041.85" y="460.9">443</text>
<text x="1024.63" y="465.9">507</text><text x="1041.85" y="465.9">248</text>
<text x="1024.63" y="470.9">432</text><text x="1041.85" y="470.9" class="r">355</text>
<text x="1024.63" y="475.9">19</text><text x="1041.85" y="475.9">0</text>
<text x="1033.24" y="481.41" class="dg">-1504</text>
<text x="1067.22" y="445.01">1</text><text x="1075.83" y="444.71">:</text><text x="1084.44" y="445.01">0</text>
<text x="1067.22" y="449.9">0</text><text x="1084.44" y="449.9">19</text>
<text x="1067.22" y="454.9">22</text><text x="1084.44" y="454.9">55</text>
<text x="1067.22" y="460.9">43</text><text x="1084.44" y="460.9">246</text>
<text x="1067.22" y="465.9">182</text><text x="1084.44" y="465.9">70</text>
<text x="1067.22" y="470.9">47</text><text x="1084.44" y="470.9">0</text>
<text x="1067.22" y="475.9" class="g">1212</text><text x="1084.44" y="475.9">153</text>
<text x="1067.22" y="480.9">357</text><text x="1084.44" y="480.9">1050</text>
<text x="1067.22" y="485.9">1065</text><text x="1084.44" y="485.9">1035</text>
<text x="1067.22" y="491.9">1421</text><text x="1084.44" y="491.9">1529</text>
<text x="1067.22" y="496.9">1595</text><text x="1084.44" y="496.9">1469</text>
<text x="1067.22" y="501.9">1509</text><text x="1084.44" y="501.9">997</text>
<text x="1067.22" y="506.9">1427</text><text x="1084.44" y="506.9">249</text>
<text x="1075.83" y="512.51" class="dg">-2008</text>
<text x="1110.74" y="419.1">0</text><text x="1119.35" y="418.8">:</text><text x="1127.96" y="419.1">1</text>
<text x="1110.74" y="423.9">0</text><text x="1127.96" y="423.9">87</text>
<text x="1110.74" y="428.9">179</text><text x="1127.96" y="428.9">574</text>
<text x="1110.74" y="434.9">573</text><text x="1127.96" y="434.9">1132</text>
<text x="1110.74" y="439.9">1300</text><text x="1127.96" y="439.9">1026</text>
<text x="1110.74" y="444.9">769</text><text x="1127.96" y="444.9">257</text>
<text x="1110.74" y="449.9">353</text><text x="1127.96" y="449.9">311</text>
<text x="1110.74" y="454.9">764</text><text x="1127.96" y="454.9">921</text>
<text x="1110.74" y="460.9">448</text><text x="1127.96" y="460.9">563</text>
<text x="1110.74" y="465.9">293</text><text x="1127.96" y="465.9">170</text>
<text x="1110.74" y="470.9">160</text><text x="1127.96" y="470.9" class="r">142</text>
<text x="1110.74" y="475.9">13</text><text x="1127.96" y="475.9">44</text>
<text x="1110.74" y="480.9">75</text><text x="1127.96" y="480.9">301</text>
<text x="1110.74" y="485.9">209</text><text x="1127.96" y="485.9">153</text>
<text x="1119.35" y="491.78" class="dr">545</text>
<text x="1153.33" y="413.92">0</text><text x="1161.94" y="413.62">:</text><text x="1170.56" y="413.92">1</text>
<text x="1153.33" y="418.9">20</text><text x="1170.56" y="418.9">212</text>
<text x="1153.33" y="423.9">352</text><text x="1170.56" y="423.9">914</text>
<text x="1153.33" y="428.9">510</text><text x="1170.56" y="428.9">1235</text>
<text x="1153.33" y="434.9">709</text><text x="1170.56" y="434.9">525</text>
<text x="1153.33" y="439.9">666</text><text x="1170.56" y="439.9">467</text>
<text x="1153.33" y="444.9">559</text><text x="1170.56" y="444.9">652</text>
<text x="1153.33" y="449.9">426</text><text x="1170.56" y="449.9" class="r">124</text>
<text x="1153.33" y="454.9">11</text><text x="1170.56" y="454.9">0</text>
<text x="1161.94" y="460.68" class="dr">976</text>
<text x="1196.85" y="413.92">0</text><text x="1205.46" y="413.62">:</text><text x="1214.07" y="413.92">1</text>
<text x="1196.85" y="418.9">0</text><text x="1214.07" y="418.9">227</text>
<text x="1196.85" y="423.9">204</text><text x="1214.07" y="423.9">501</text>
<text x="1196.85" y="428.9">585</text><text x="1214.07" y="428.9">370</text>
<text x="1196.85" y="434.9">354</text><text x="1214.07" y="434.9">390</text>
<text x="1196.85" y="439.9">673</text><text x="1214.07" y="439.9">218</text>
<text x="1196.85" y="444.9">374</text><text x="1214.07" y="444.9">192</text>
<text x="1196.85" y="449.9">547</text><text x="1214.07" y="449.9">181</text>
<text x="1196.85" y="454.9">539</text><text x="1214.07" y="454.9" class="r">146</text>
<text x="1196.85" y="460.9">4</text><text x="1214.07" y="460.9">0</text>
<text x="1205.46" y="465.86" class="dg">-955</text>
<text x="1239.44" y="424.28">0</text><text x="1248.06" y="423.98">:</text><text x="1256.67" y="424.28">0</text>
<text x="1239.44" y="428.9">0</text><text x="1256.67" y="428.9">155</text>
<text x="1239.44" y="434.9">280</text><text x="1256.67" y="434.9">307</text>
<text x="1239.44" y="439.9">317</text><text x="1256.67" y="439.9">377</text>
<text x="1239.44" y="444.9">472</text><text x="1256.67" y="444.9">546</text>
<text x="1239.44" y="449.9">304</text><text x="1256.67" y="449.9">264</text>
<text x="1239.44" y="454.9">622</text><text x="1256.67" y="454.9">156</text>
<text x="1239.44" y="460.9">130</text><text x="1256.67" y="460.9">0</text>
<text x="1248.06" y="465.86" class="dg">-320</text>
<text x="1282.96" y="434.65">3</text><text x="1291.57" y="434.35">:</text><text x="1300.19" y="434.65">0</text>
<text x="1282.96" y="439.9">0</text><text x="1300.19" y="439.9">216</text>
<text x="1282.96" y="444.9">167</text><text x="1300.19" y="444.9">49</text>
<text x="1282.96" y="449.9" class="g">250</text><text x="1300.19" y="449.9">30</text>
<text x="1282.96" y="454.9" class="g">640</text><text x="1300.19" y="454.9">426</text>
<text x="1282.96" y="460.9">332</text><text x="1300.19" y="460.9">87</text>
<text x="1282.96" y="465.9" class="g">300</text><text x="1300.19" y="465.9">369</text>
<text x="1282.96" y="470.9">739</text><text x="1300.19" y="470.9">971</text>
<text x="1282.96" y="475.9">1206</text><text x="1300.19" y="475.9">452</text>
<text x="1282.96" y="480.9">151</text><text x="1300.19" y="480.9">0</text>
<text x="1291.57" y="486.6" class="dg">-1188</text>
<text x="1325.56" y="465.75">6</text><text x="1334.17" y="465.45">:</text><text x="1342.78" y="465.75">1</text>
<text x="1325.56" y="470.9">0</text><text x="1342.78" y="470.9">3</text>
<text x="1325.56" y="475.9" class="g">19</text><text x="1342.78" y="475.9">133</text>
<text x="1325.56" y="480.9" class="g">549</text><text x="1342.78" y="480.9">244</text>
<text x="1325.56" y="485.9">499</text><text x="1342.78" y="485.9">415</text>
<text x="1325.56" y="491.9">891</text><text x="1342.78" y="491.9">681</text>
<text x="1325.56" y="496.9">656</text><text x="1342.78" y="496.9">907</text>
<text x="1325.56" y="501.9">1318</text><text x="1342.78" y="501.9">1172</text>
<text x="1325.56" y="506.9">2912</text><text x="1342.78" y="506.9">962</text>
<text x="1325.56" y="511.9">1524</text><text x="1342.78" y="511.9">70</text>
<text x="1325.56" y="517.9" class="g">396</text><text x="1342.78" y="517.9">128</text>
<text x="1325.56" y="522.9">50</text><text x="1342.78" y="522.9">318</text>
<text x="1325.56" y="527.9" class="g">1006</text><text x="1342.78" y="527.9">0</text>
<text x="1325.56" y="532.9">0</text><text x="1342.78" y="532.9">46</text>
<text x="1325.56" y="537.9" class="g">611</text><text x="1342.78" y="537.9" class="r">1047</text>
<text x="1325.56" y="543.9">340</text><text x="1342.78" y="543.9">929</text>
<text x="1325.56" y="548.9">1038</text><text x="1342.78" y="548.9">438</text>
<text x="1325.56" y="553.9" class="g">1587</text><text x="1342.78" y="553.9">98</text>
<text x="1334.17" y="559.16" class="dg">-6595</text>
<text x="1369.07" y="517.58">2</text><text x="1377.69" y="517.28">:</text><text x="1386.3" y="517.58">1</text>
<text x="1369.07" y="522.9">49</text><text x="1386.3" y="522.9">495</text>
<text x="1369.07" y="527.9">324</text><text x="1386.3" y="527.9">140</text>
<text x="1369.07" y="532.9" class="g">556</text><text x="1386.3" y="532.9">670</text>
<text x="1369.07" y="537.9">595</text><text x="1386.3" y="537.9">1117</text>
<text x="1369.07" y="543.9">1031</text><text x="1386.3" y="543.9">627</text>
<text x="1369.07" y="548.9">1006</text><text x="1386.3" y="548.9">1231</text>
<text x="1369.07" y="553.9">1827</text><text x="1386.3" y="553.9">771</text>
<text x="1369.07" y="558.9">881</text><text x="1386.3" y="558.9">1140</text>
<text x="1369.07" y="563.9">2365</text><text x="1386.3" y="563.9">1378</text>
<text x="1369.07" y="568.9">1071</text><text x="1386.3" y="568.9">992</text>
<text x="1369.07" y="574.9">645</text><text x="1386.3" y="574.9">299</text>
<text x="1369.07" y="579.9">400</text><text x="1386.3" y="579.9">1089</text>
<text x="1369.07" y="584.9">1255</text><text x="1386.3" y="584.9">203</text>
<text x="1369.07" y="589.9" class="g">1061</text><text x="1386.3" y="589.9">818</text>
<text x="1369.07" y="594.9">994</text><text x="1386.3" y="594.9">693</text>
<text x="1369.07" y="600.9">1325</text><text x="1386.3" y="600.9" class="r">1406</text>
<text x="1369.07" y="605.9">137</text><text x="1386.3" y="605.9">0</text>
<text x="1377.69" y="610.98" class="dg">-2453</text>
<text x="1411.67" y="579.77">1</text><text x="1420.28" y="579.47">:</text><text x="1428.89" y="579.77">0</text>
<text x="1411.67" y="584.9">213</text><text x="1428.89" y="584.9">702</text>
<text x="1411.67" y="589.9">731</text><text x="1428.89" y="589.9">1263</text>
<text x="1411.67" y="594.9">1069</text><text x="1428.89" y="594.9">1762</text>
<text x="1411.67" y="600.9">1226</text><text x="1428.89" y="600.9">2109</text>
<text x="1411.67" y="605.9">2431</text><text x="1428.89" y="605.9">3605</text>
<text x="1411.67" y="610.9">2282</text><text x="1428.89" y="610.9">1751</text>
<text x="1411.67" y="615.9">1341</text><text x="1428.89" y="615.9">868</text>
<text x="1411.67" y="620.9" class="g">3344</text><text x="1428.89" y="620.9">1463</text>
<text x="1411.67" y="625.9">2487</text><text x="1428.89" y="625.9">951</text>
<text x="1411.67" y="631.9">1212</text><text x="1428.89" y="631.9">1620</text>
<text x="1411.67" y="636.9">767</text><text x="1428.89" y="636.9">97</text>
<text x="1420.28" y="642.08" class="dg">-912</text>
<text x="1455.19" y="605.68">3</text><text x="1463.8" y="605.38">:</text><text x="1472.41" y="605.68">0</text>
<text x="1455.19" y="610.9">0</text><text x="1472.41" y="610.9">946</text>
<text x="1455.19" y="615.9">1280</text><text x="1472.41" y="615.9">861</text>
<text x="1455.19" y="620.9">738</text><text x="1472.41" y="620.9">259</text>
<text x="1455.19" y="625.9" class="g">1266</text><text x="1472.41" y="625.9">1483</text>
<text x="1455.19" y="631.9">965</text><text x="1472.41" y="631.9">41</text>
<text x="1455.19" y="636.9" class="g">1032</text><text x="1472.41" y="636.9">1316</text>
<text x="1455.19" y="641.9">935</text><text x="1472.41" y="641.9">604</text>
<text x="1455.19" y="646.9">1011</text><text x="1472.41" y="646.9">931</text>
<text x="1455.19" y="651.9">805</text><text x="1472.41" y="651.9">2121</text>
<text x="1455.19" y="657.9">1508</text><text x="1472.41" y="657.9">2050</text>
<text x="1455.19" y="662.9">1773</text><text x="1472.41" y="662.9">512</text>
<text x="1455.19" y="667.9">602</text><text x="1472.41" y="667.9">27</text>
<text x="1455.19" y="672.9" class="g">254</text><text x="1472.41" y="672.9">438</text>
<text x="1455.19" y="677.9">706</text><text x="1472.41" y="677.9">553</text>
<text x="1455.19" y="682.9">883</text><text x="1472.41" y="682.9">1085</text>
<text x="1455.19" y="688.9">792</text><text x="1472.41" y="688.9">278</text>
<text x="1455.19" y="693.9">202</text><text x="1472.41" y="693.9">0</text>
<text x="1463.8" y="699.09" class="dg">-1247</text>
<text x="1497.78" y="673.06">0</text><text x="1506.39" y="672.76">:</text><text x="1515" y="673.06">0</text>
<text x="1497.78" y="677.9">65</text><text x="1515" y="677.9">391</text>
<text x="1497.78" y="682.9">440</text><text x="1515" y="682.9">278</text>
<text x="1497.78" y="688.9">408</text><text x="1515" y="688.9">953</text>
<text x="1497.78" y="693.9">992</text><text x="1515" y="693.9">1055</text>
<text x="1497.78" y="698.9">669</text><text x="1515" y="698.9">1192</text>
<text x="1497.78" y="703.9">851</text><text x="1515" y="703.9">1669</text>
<text x="1497.78" y="708.9">905</text><text x="1515" y="708.9">946</text>
<text x="1497.78" y="714.9">1359</text><text x="1515" y="714.9">1601</text>
<text x="1497.78" y="719.9">2411</text><text x="1515" y="719.9">3749</text>
<text x="1497.78" y="724.9">2777</text><text x="1515" y="724.9">1900</text>
<text x="1497.78" y="729.9">1359</text><text x="1515" y="729.9">2013</text>
<text x="1497.78" y="734.9">2297</text><text x="1515" y="734.9">1638</text>
<text x="1497.78" y="739.9">2822</text><text x="1515" y="739.9">1611</text>
<text x="1497.78" y="745.9">960</text><text x="1515" y="745.9">1055</text>
<text x="1497.78" y="750.9">365</text><text x="1515" y="750.9">336</text>
<text x="1497.78" y="755.9">627</text><text x="1515" y="755.9">409</text>
<text x="1497.78" y="760.9">564</text><text x="1515" y="760.9">786</text>
<text x="1497.78" y="765.9">543</text><text x="1515" y="765.9">1306</text>
<text x="1497.78" y="771.9">1331</text><text x="1515" y="771.9">706</text>
<text x="1497.78" y="776.9">734</text><text x="1515" y="776.9">1278</text>
<text x="1497.78" y="781.9">1851</text><text x="1515" y="781.9">2841</text>
<text x="1497.78" y="786.9">2464</text><text x="1515" y="786.9">1943</text>
<text x="1497.78" y="791.9">912</text><text x="1515" y="791.9">430</text>
<text x="1497.78" y="796.9">910</text><text x="1515" y="796.9">0</text>
<text x="1506.39" y="802.75" class="dr">1470</text>
</g>
<g shape-rendering="crispEdges" fill="rgba(70,114,239,0.31)">
<rect x="27" y="249" width="38" height="5"/>
<rect x="74" y="249" width="38" height="5"/>
<rect x="120" y="254" width="38" height="5"/>
<rect x="167" y="197" width="38" height="5"/>
<rect x="213" y="208" width="38" height="5"/>
<rect x="260" y="203" width="38" height="5"/>
<rect x="306" y="218" width="38" height="5"/>
<rect x="353" y="275" width="38" height="5"/>
<rect x="399" y="368" width="38" height="5"/>
<rect x="446" y="420" width="38" height="5"/>
<rect x="492" y="441" width="38" height="5"/>
<rect x="539" y="420" width="38" height="5"/>
<rect x="585" y="431" width="38" height="5"/>
<rect x="632" y="467" width="38" height="5"/>
<rect x="678" y="436" width="38" height="5"/>
<rect x="725" y="431" width="38" height="5"/>
<rect x="771" y="472" width="38" height="5"/>
<rect x="818" y="503" width="38" height="5"/>
<rect x="864" y="482" width="38" height="5"/>
<rect x="911" y="436" width="38" height="5"/>
<rect x="957" y="405" width="38" height="5"/>
<rect x="1004" y="441" width="38" height="5"/>
<rect x="1050" y="436" width="38" height="5"/>
<rect x="1097" y="451" width="38" height="5"/>
<rect x="1143" y="493" width="38" height="5"/>
<rect x="1190" y="436" width="38" height="5"/>
<rect x="1236" y="425" width="38" height="5"/>
<rect x="1283" y="425" width="38" height="5"/>
<rect x="1329" y="441" width="38" height="5"/>
<rect x="1376" y="467" width="38" height="5"/>
<rect x="1422" y="503" width="38" height="5"/>
<rect x="1469" y="560" width="38" height="5"/>
<rect x="1515" y="602" width="38" height="5"/>
<rect x="1562" y="654" width="38" height="5"/>
<rect x="1608" y="716" width="38" height="5"/>
<rect x="-19" y="270" width="38" height="5"/>
</g>
<g>
<text x="1865.25" y="253.39" fill="#ffffff" class="kl">VAH</text>
<text x="1727.2" y="439.98" fill="#ffffff" class="kl">POC</text>
<text x="1867.8" y="605.83" fill="#ffffff" class="kl">VAL</text>
</g>
</g>
<g transform="translate(325,870.7)"><circle r="8" fill="url(#gg)"/><path d="M0,-4.4 L4.2,-2.2 L0,0 L-4.2,-2.2 Z" fill="#25a71f"/><path d="M-4.2,0.2 L0,2.4 L4.2,0.2 M-4.2,2.4 L0,4.6 L4.2,2.4" fill="none" stroke="#25a71f" stroke-width="1.1"/></g>
<g transform="translate(418,870.7)"><circle r="8" fill="url(#gg)"/><path d="M-3.8,-2.8 L3.8,-2.8 L0,3.6 Z" fill="#25a71f"/></g>
<g transform="translate(465,870.7)"><circle r="8" fill="url(#gg)"/><path d="M-3.2,-3.4 L2.2,-0.9 A2.6,2.6 0 1 1 -0.9,2.2 Z" fill="#25a71f"/><circle cx="1.3" cy="1.3" r="1" fill="#1a3a38"/></g>
<g transform="translate(697,870.7)"><circle r="8" fill="url(#gg)"/><path d="M-3.8,-2.8 L3.8,-2.8 L0,3.6 Z" fill="#25a71f"/></g>
<g transform="translate(790,870.7)"><circle r="8" fill="url(#gg)"/><path d="M-3.2,-3.4 L2.2,-0.9 A2.6,2.6 0 1 1 -0.9,2.2 Z" fill="#25a71f"/><circle cx="1.3" cy="1.3" r="1" fill="#1a3a38"/></g>
<g transform="translate(930,870.7)"><circle r="8" fill="url(#gr)"/><path d="M0,-4 L3.6,-0.2 L1.4,-0.2 L1.4,3.8 L-1.4,3.8 L-1.4,-0.2 L-3.6,-0.2 Z" fill="#f0483a"/></g>
<g transform="translate(976,870.7)"><circle r="8" fill="url(#gr)"/><path d="M-3.6,2.8 L3.6,2.8 L0,-3.6 Z" fill="#f0483a"/></g>
<g transform="translate(1023,870.7)"><circle r="8" fill="url(#gg)"/><path d="M-3.2,-3.4 L2.2,-0.9 A2.6,2.6 0 1 1 -0.9,2.2 Z" fill="#25a71f"/><circle cx="1.3" cy="1.3" r="1" fill="#1a3a38"/></g>
<g transform="translate(1069,870.7)"><circle r="8" fill="url(#gg)"/><path d="M-3.2,-3.4 L2.2,-0.9 A2.6,2.6 0 1 1 -0.9,2.2 Z" fill="#25a71f"/><circle cx="1.3" cy="1.3" r="1" fill="#1a3a38"/></g>
<g transform="translate(1116,870.7)"><circle r="8" fill="url(#gg)"/><path d="M-3.8,-2.8 L3.8,-2.8 L0,3.6 Z" fill="#25a71f"/></g>
<g transform="translate(1255,870.7)"><circle r="8" fill="url(#gr)"/><path d="M0,-4 L3.6,-0.2 L1.4,-0.2 L1.4,3.8 L-1.4,3.8 L-1.4,-0.2 L-3.6,-0.2 Z" fill="#f0483a"/></g>
<g transform="translate(1395,870.7)"><circle r="8" fill="url(#gg)"/><path d="M-3.8,-2.8 L3.8,-2.8 L0,3.6 Z" fill="#25a71f"/></g>
<g transform="translate(1441,870.7)"><circle r="8" fill="url(#gg)"/><path d="M-3.2,-3.4 L2.2,-0.9 A2.6,2.6 0 1 1 -0.9,2.2 Z" fill="#25a71f"/><circle cx="1.3" cy="1.3" r="1" fill="#1a3a38"/></g>
<g transform="translate(1534,870.7)"><circle r="8" fill="url(#gg)"/><path d="M-3.8,-2.8 L3.8,-2.8 L0,3.6 Z" fill="#25a71f"/></g>
</svg>
<div class="abs sig">信号点</div>
<div class="abs cum">Cum Delta</div>
</body></html>
